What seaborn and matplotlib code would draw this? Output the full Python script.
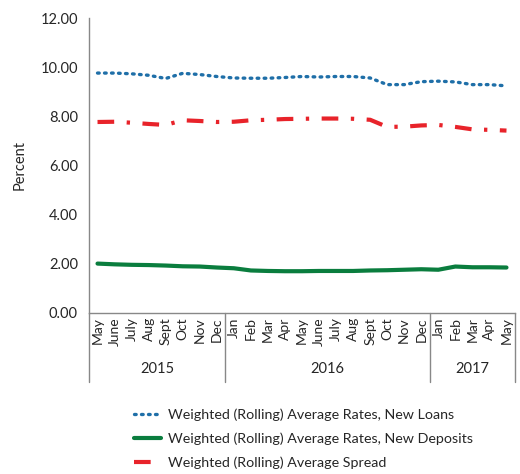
import numpy as np
import pandas as pd
import matplotlib
matplotlib.use("Agg")
import matplotlib.pyplot as plt
import matplotlib.transforms as mtransforms
import seaborn as sns

months = ["May", "June", "July", "Aug", "Sept", "Oct", "Nov", "Dec",
          "Jan", "Feb", "Mar", "Apr", "May", "June", "July", "Aug", "Sept", "Oct", "Nov", "Dec",
          "Jan", "Feb", "Mar", "Apr", "May"]
years = ["2015", "2016", "2017"]
year_counts = [8, 12, 5]

loans = [9.76, 9.76, 9.73, 9.67, 9.54, 9.75, 9.70, 9.62, 9.56, 9.55, 9.55, 9.58, 9.62,
         9.60, 9.62, 9.62, 9.56, 9.29, 9.29, 9.41, 9.43, 9.40, 9.29, 9.29, 9.24]
deposits = [2.01, 1.98, 1.96, 1.95, 1.93, 1.90, 1.89, 1.85, 1.82, 1.73, 1.71, 1.70, 1.70,
            1.71, 1.71, 1.71, 1.73, 1.74, 1.76, 1.78, 1.76, 1.89, 1.86, 1.86, 1.85]
spread = [7.77, 7.78, 7.74, 7.69, 7.65, 7.84, 7.81, 7.77, 7.78, 7.84, 7.86, 7.89, 7.90,
          7.91, 7.91, 7.90, 7.86, 7.57, 7.58, 7.63, 7.65, 7.57, 7.47, 7.45, 7.42]

names = ["Weighted (Rolling) Average Rates, New Loans",
         "Weighted (Rolling) Average Rates, New Deposits",
         "Weighted (Rolling) Average Spread"]

df = pd.DataFrame({"idx": np.arange(len(months)),
                   names[0]: loans, names[1]: deposits, names[2]: spread})

sns.set_style("white")
plt.rcParams["font.family"] = ["Lato", "DejaVu Sans"]

fig = plt.figure(figsize=(5.2, 4.74), dpi=100)
ax = fig.add_axes([89 / 520, 1 - 313 / 474, 426 / 520, 295 / 474])

sns.lineplot(data=df, x="idx", y=names[0], ax=ax, color="#1f6fa8", lw=2.4,
             linestyle=(0, (0.5, 1.6)), dash_capstyle="round", label=names[0])
sns.lineplot(data=df, x="idx", y=names[1], ax=ax, color="#0a7d3e", lw=3, label=names[1])
sns.lineplot(data=df, x="idx", y=names[2], ax=ax, color="#e8232a", lw=3,
             linestyle=(0, (4, 3, 0.8, 3)), label=names[2])

ax.set_xlim(-0.5, len(months) - 0.5)
ax.set_ylim(0, 12)
ax.set_yticks(np.arange(0, 13, 2))
ax.set_yticklabels([f"{v:.2f}" for v in np.arange(0, 13, 2)], fontsize=10.5)
ax.set_xticks(np.arange(len(months)))
ax.set_xticklabels(months, rotation=90, fontsize=10)
ax.tick_params(axis="x", length=0, pad=3)
ax.tick_params(axis="y", length=0, pad=8)
ax.set_xlabel("")
ax.set_ylabel("Percent", fontsize=10.5, labelpad=10)
for s in ["top", "right"]:
    ax.spines[s].set_visible(False)
for s in ["left", "bottom"]:
    ax.spines[s].set_color("#888888")
    ax.spines[s].set_linewidth(1)

trans = mtransforms.blended_transform_factory(ax.transData, ax.transAxes)
edges = np.concatenate([[0], np.cumsum(year_counts)]) - 0.5
for e in edges:
    ax.plot([e, e], [0, -0.235], transform=trans, color="#888888", lw=1, clip_on=False)
for i, y in enumerate(years):
    ax.text((edges[i] + edges[i + 1]) / 2, -0.19, y, transform=trans,
            ha="center", va="center", fontsize=10.5)

ax.get_legend().remove()
h, l = ax.get_legend_handles_labels()
fig.legend(h, l, loc="center left", bbox_to_anchor=(0.232, 0.074), frameon=False,
           fontsize=10.3, labelspacing=0.8, handlelength=1.9, handletextpad=0.5)

fig.savefig("out.png", dpi=100)
